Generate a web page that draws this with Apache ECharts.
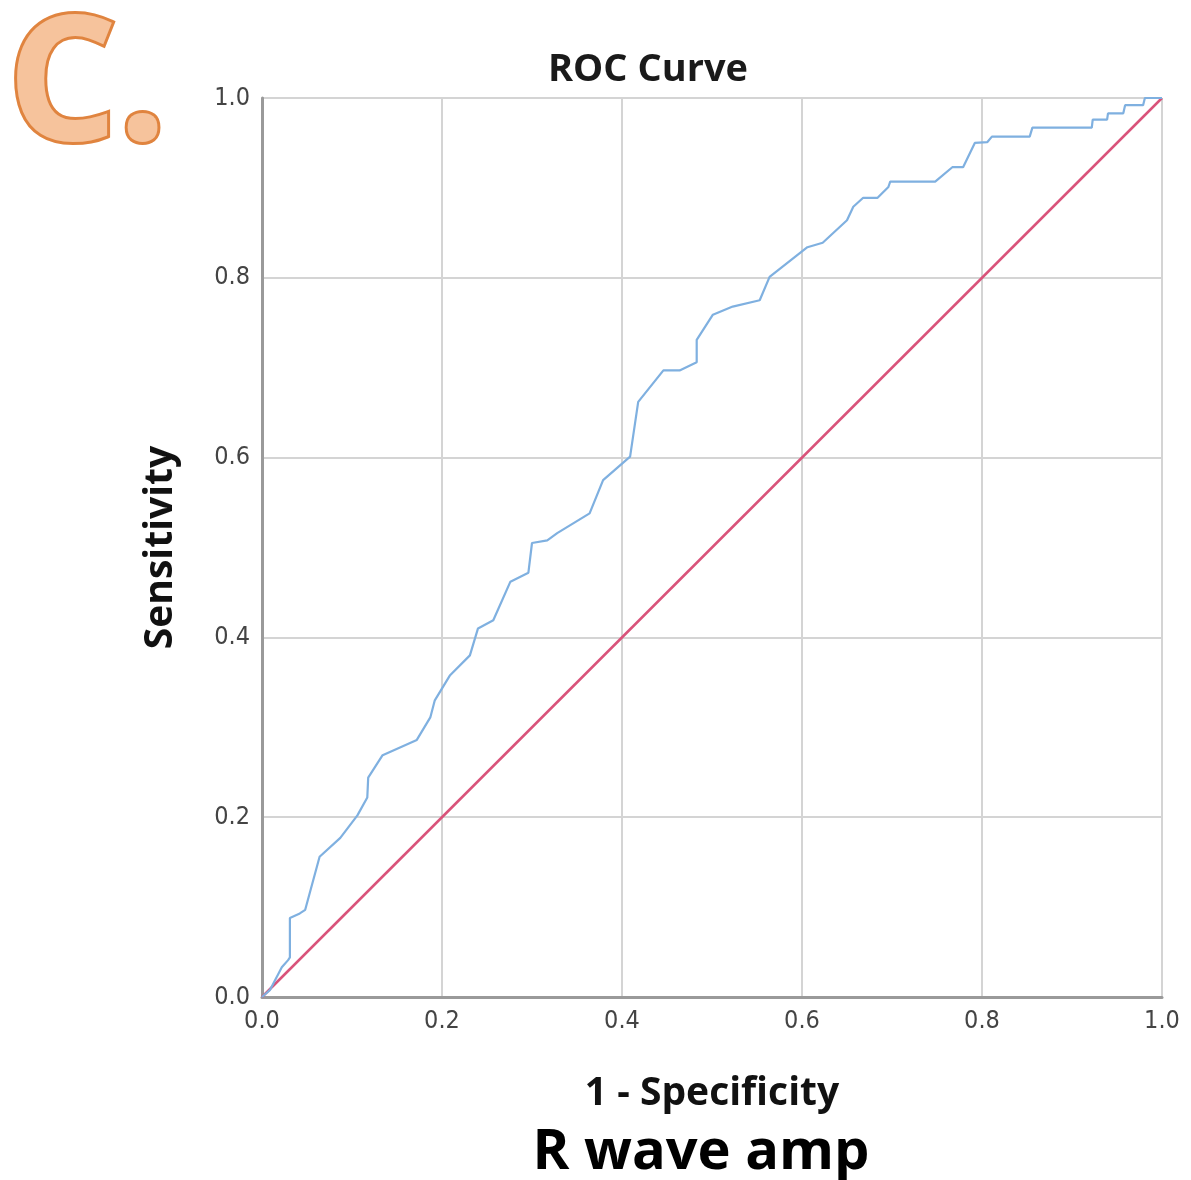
<!DOCTYPE html>
<html>
<head>
<meta charset="utf-8">
<script src="https://cdn.jsdelivr.net/npm/echarts@6/dist/echarts.min.js"></script>
<style>
  html, body { margin: 0; padding: 0; background: #fff; }
  #chart { width: 1191px; height: 1180px; }
</style>
</head>
<body>
<div id="chart"></div>
<script>
// ROC curve points (1 - specificity, sensitivity)
const rocX = [0, 0.009, 0.022, 0.029, 0.031, 0.031, 0.042, 0.048, 0.064, 0.087, 0.106, 0.117, 0.118, 0.134,
  0.172, 0.187, 0.192, 0.209, 0.231, 0.240, 0.257, 0.276, 0.296, 0.300, 0.317, 0.328, 0.364, 0.379,
  0.409, 0.418, 0.446, 0.464, 0.483, 0.483, 0.501, 0.523, 0.553, 0.564, 0.606, 0.623, 0.650, 0.657,
  0.668, 0.684, 0.696, 0.698, 0.748, 0.767, 0.779, 0.792, 0.806, 0.811, 0.853, 0.856, 0.922, 0.923,
  0.939, 0.940, 0.957, 0.959, 0.979, 0.981, 1];
const rocY = [0, 0.008, 0.033, 0.041, 0.044, 0.088, 0.093, 0.097, 0.156, 0.177, 0.202, 0.222, 0.244, 0.269,
  0.286, 0.311, 0.330, 0.358, 0.380, 0.410, 0.419, 0.462, 0.472, 0.505, 0.508, 0.516, 0.538, 0.575,
  0.601, 0.662, 0.697, 0.697, 0.706, 0.731, 0.759, 0.768, 0.775, 0.801, 0.834, 0.839, 0.864, 0.879,
  0.889, 0.889, 0.901, 0.907, 0.907, 0.923, 0.923, 0.950, 0.951, 0.957, 0.957, 0.967, 0.967, 0.976,
  0.976, 0.983, 0.983, 0.992, 0.992, 1, 1];
const refX = [0, 1];
const refY = [0, 1];

const chart = echarts.init(document.getElementById('chart'));

const labelFont = { color: '#444', fontSize: 25, fontFamily: 'DejaVu Sans Condensed' };
const nameFont = { color: '#111', fontSize: 39, fontWeight: 'bold', fontFamily: 'Open Sans' };

chart.setOption({
  animation: false,
  backgroundColor: '#fff',
  title: [
    { text: 'ROC Curve', left: 643, top: 46, textAlign: 'center',
      textStyle: { color: '#1a1a1a', fontSize: 38, fontWeight: 'bold', fontFamily: 'Open Sans' } },
    { text: 'R wave amp', left: 696, top: 1120, textAlign: 'center',
      textStyle: { color: '#000', fontSize: 56, fontWeight: 'bold', fontFamily: 'Open Sans' } }
  ],
  graphic: [{
    type: 'text', left: 4, top: 0,
    style: { text: 'C.', fontSize: 174, fontWeight: 'bold', fontFamily: 'Open Sans',
      fill: '#f6c39c', stroke: '#e0843f', lineWidth: 6 }
  }],
  grid: { left: 262, right: 29, top: 98, bottom: 183 },
  xAxis: {
    type: 'value', min: 0, max: 1, interval: 0.2,
    name: '1 - Specificity', nameLocation: 'middle', nameGap: 77, nameTextStyle: nameFont,
    axisLine: { show: true, lineStyle: { color: '#9a9a9a', width: 3 } },
    axisTick: { show: false },
    axisLabel: Object.assign({ margin: 12, formatter: v => v.toFixed(1) }, labelFont),
    splitLine: { show: true, lineStyle: { color: '#d4d4d4', width: 2 } }
  },
  yAxis: {
    type: 'value', min: 0, max: 1, interval: 0.2,
    name: 'Sensitivity', nameLocation: 'middle', nameGap: 82, nameTextStyle: nameFont,
    axisLine: { show: true, lineStyle: { color: '#9a9a9a', width: 3 } },
    axisTick: { show: false },
    axisLabel: Object.assign({ margin: 12, formatter: v => v.toFixed(1) }, labelFont),
    splitLine: { show: true, lineStyle: { color: '#d4d4d4', width: 2 } }
  },
  series: [
    {
      type: 'line', name: 'Reference', data: refX.map((x, i) => [x, refY[i]]),
      symbol: 'none', lineStyle: { color: '#d9537a', width: 2.5 }, z: 3
    },
    {
      type: 'line', name: 'R wave amp', data: rocX.map((x, i) => [x, rocY[i]]),
      symbol: 'none', lineStyle: { color: '#7fb0e0', width: 2.2 }, z: 4
    }
  ]
});
</script>
</body>
</html>
